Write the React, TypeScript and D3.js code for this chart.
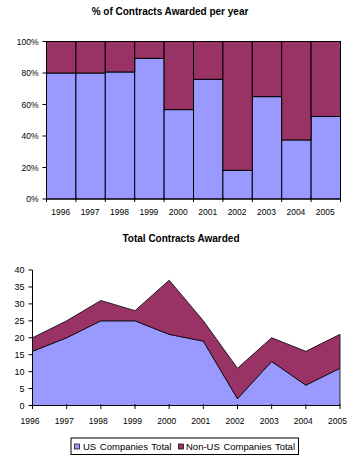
import React from 'react';
import * as d3 from 'd3';

const years = ['1996', '1997', '1998', '1999', '2000', '2001', '2002', '2003', '2004', '2005'];
const usTotals = [16, 20, 25, 25, 21, 19, 2, 13, 6, 11];
const nonUsTotals = [4, 5, 6, 3, 16, 6, 9, 7, 10, 10];
const seriesNames = ['US Companies Total', 'Non-US Companies Total'];
const pctTicks = [0, 0.2, 0.4, 0.6, 0.8, 1];
const countTicks = [0, 5, 10, 15, 20, 25, 30, 35, 40];

const COLORS = ['#9999FF', '#993366'];
const FONT = '"Liberation Sans", Arial, sans-serif';

export default function App() {
  const rows = years.map((y, i) => ({ year: y, us: usTotals[i], non: nonUsTotals[i] }));
  const keys = ['us', 'non'];

  // Top chart: 100% stacked columns
  const x1 = d3.scaleBand<string>().domain(years).range([46.5, 340.5]).padding(0);
  const y1 = d3.scaleLinear().domain([0, 1]).range([199, 41.5]);
  const stackPct = d3.stack<any>().keys(keys).offset(d3.stackOffsetExpand)(rows);

  // Bottom chart: stacked area
  const x2 = d3.scalePoint<string>().domain(years).range([32.5, 340]);
  const y2 = d3.scaleLinear().domain([0, 40]).range([405.5, 270]);
  const stackAbs = d3.stack<any>().keys(keys)(rows);
  const area = d3
    .area<any>()
    .x((d) => x2(d.data.year) as number)
    .y0((d) => y2(d[0]))
    .y1((d) => y2(d[1]));

  const boundaries = years.map((y) => x1(y) as number).concat([x1.range()[1]]);

  return (
    <svg
      width={359}
      height={466}
      style={{ position: 'absolute', left: 0, top: 0, background: '#fff' }}
      fontFamily={FONT}
    >
      <rect x={0} y={0} width={359} height={466} fill="#fff" />
      {/* Top title */}
      <text x={170} y={14.5} textAnchor="middle" fontSize={10} fontWeight="bold">
        % of Contracts Awarded per year
      </text>

      {/* Top bars */}
      {stackPct.map((s, si) =>
        s.map((d, i) => (
          <rect
            key={`b${si}-${i}`}
            x={x1(years[i]) as number}
            y={y1(d[1])}
            width={x1.bandwidth()}
            height={y1(d[0]) - y1(d[1])}
            fill={COLORS[si]}
            stroke="#000"
            strokeWidth={1}
          />
        ))
      )}
      {/* Top axes */}
      <line x1={46.5} x2={46.5} y1={41.5} y2={199} stroke="#000" />
      <line x1={46.5} x2={340.5} y1={199} y2={199} stroke="#000" />
      {pctTicks.map((t) => (
        <g key={`pt${t}`}>
          <line x1={42.5} x2={46.5} y1={y1(t)} y2={y1(t)} stroke="#000" />
          <text x={38.5} y={y1(t) + 3} textAnchor="end" fontSize={8.5}>
            {d3.format('.0%')(t)}
          </text>
        </g>
      ))}
      {boundaries.map((b, i) => (
        <line key={`bt${i}`} x1={b} x2={b} y1={197} y2={202} stroke="#000" />
      ))}
      {years.map((y) => (
        <text
          key={`xl1${y}`}
          x={(x1(y) as number) + x1.bandwidth() / 2 - 0.5}
          y={214.5}
          textAnchor="middle"
          fontSize={8.5}
        >
          {y}
        </text>
      ))}

      {/* Bottom title */}
      <text x={181} y={241.5} textAnchor="middle" fontSize={10} fontWeight="bold">
        Total Contracts Awarded
      </text>

      {/* Areas */}
      {stackAbs.map((s, si) => (
        <path key={`a${si}`} d={area(s) as string} fill={COLORS[si]} stroke="#000" strokeWidth={0.8} strokeLinejoin="round" />
      ))}
      {/* Bottom axes */}
      <line x1={32.5} x2={32.5} y1={270} y2={405.5} stroke="#000" />
      <line x1={32.5} x2={340} y1={405.5} y2={405.5} stroke="#000" />
      {countTicks.map((t) => (
        <g key={`ct${t}`}>
          <line x1={28.5} x2={32.5} y1={y2(t)} y2={y2(t)} stroke="#000" />
          <text x={24.5} y={y2(t) + 3.2} textAnchor="end" fontSize={9}>
            {t}
          </text>
        </g>
      ))}
      {years.map((y) => (
        <g key={`xt2${y}`}>
          <line x1={x2(y) as number} x2={x2(y) as number} y1={404} y2={409} stroke="#000" />
          <text x={(x2(y) as number) - 2.5} y={424} textAnchor="middle" fontSize={8.5}>
            {y}
          </text>
        </g>
      ))}

      {/* Legend */}
      <rect x={71} y={438} width={227.5} height={16.5} fill="#fff" stroke="#000" strokeWidth={1} />
      <rect x={74.5} y={444} width={5} height={5} fill={COLORS[0]} stroke="#000" strokeWidth={0.7} />
      <text x={83} y={449.5} fontSize={9.5} wordSpacing={1}>
        {seriesNames[0]}
      </text>
      <rect x={178.5} y={444} width={5} height={5} fill={COLORS[1]} stroke="#000" strokeWidth={0.7} />
      <text x={186} y={449.5} fontSize={9.5} wordSpacing={1}>
        {seriesNames[1]}
      </text>
    </svg>
  );
}
